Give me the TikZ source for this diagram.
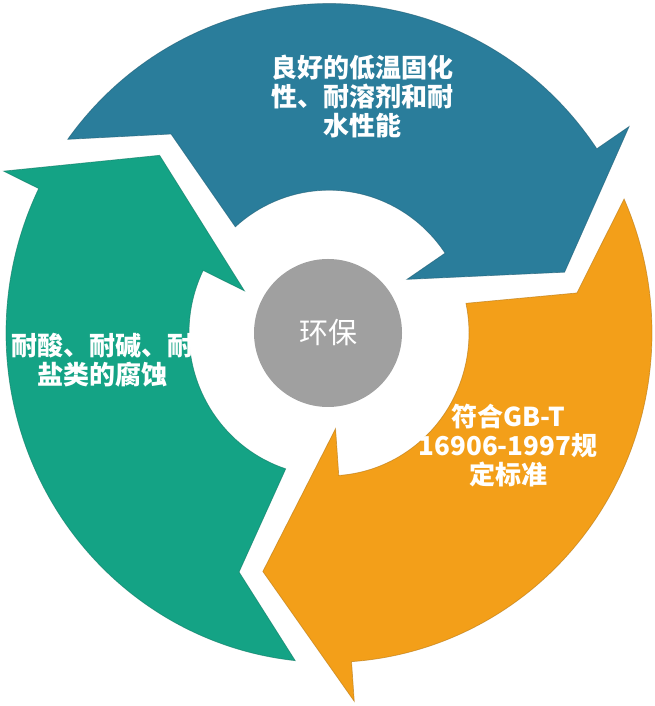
\documentclass[tikz,border=0pt]{standalone}
\usepackage{fontspec}
\newfontfamily\cjk{Noto Sans CJK SC}
\definecolor{cblue}{HTML}{2A7D9B}
\definecolor{cgreen}{HTML}{14A385}
\definecolor{corange}{HTML}{F39F19}
\definecolor{cgray}{HTML}{A0A0A0}
\tikzset{
  ringarrow/.style={line width=0.7pt, line join=miter},
  lbl/.style={text=white, font=\cjk\bfseries\fontsize{26}{29}\selectfont, align=center, inner sep=0pt},
}
% #1 head base angle, #2 colour
\newcommand{\ringarrowdraw}[2]{%
  \fill[#2] (#1+110:323) arc[start angle=#1+110, end angle=#1, radius=323]
    -- (#1:362) -- (#1-19.8:243) -- (#1:94) -- (#1:140)
    arc[start angle=#1, end angle=#1+98, radius=140]
    -- (#1+95:251) -- cycle;
  \draw[ringarrow, #2!75!black, opacity=0.6] (#1+110:323) arc[start angle=#1+110, end angle=#1, radius=323]
    -- (#1:362) -- (#1-19.8:243) -- (#1:94) -- (#1:140)
    arc[start angle=#1, end angle=#1+98, radius=140]
    -- (#1+95:251) -- cycle;
}
\begin{document}
\begin{tikzpicture}[x=1pt, y=1pt]
\useasboundingbox (0,0) rectangle (654,706);
\coordinate (c) at (329,373);
\begin{scope}[shift={(c)}, yscale=1.02]
  \ringarrowdraw{34}{cblue}
  \ringarrowdraw{154}{cgreen}
  \ringarrowdraw{274}{corange}
\end{scope}
\node[circle, fill=cgray, minimum size=148pt, inner sep=0pt, text=white,
      font=\cjk\fontsize{29}{32}\selectfont] (hub) at (328,373) {环保};
\node[lbl] (tblue) at (362,609) {良好的低温固化\\性、耐溶剂和耐\\水性能};
\node[lbl] (tgreen) at (102,345.5) {耐酸、耐碱、耐\\盐类的腐蚀};
\node[lbl] (torange) at (508,260) {符合GB-T\\16906-1997规\\定标准};
\end{tikzpicture}
\end{document}
